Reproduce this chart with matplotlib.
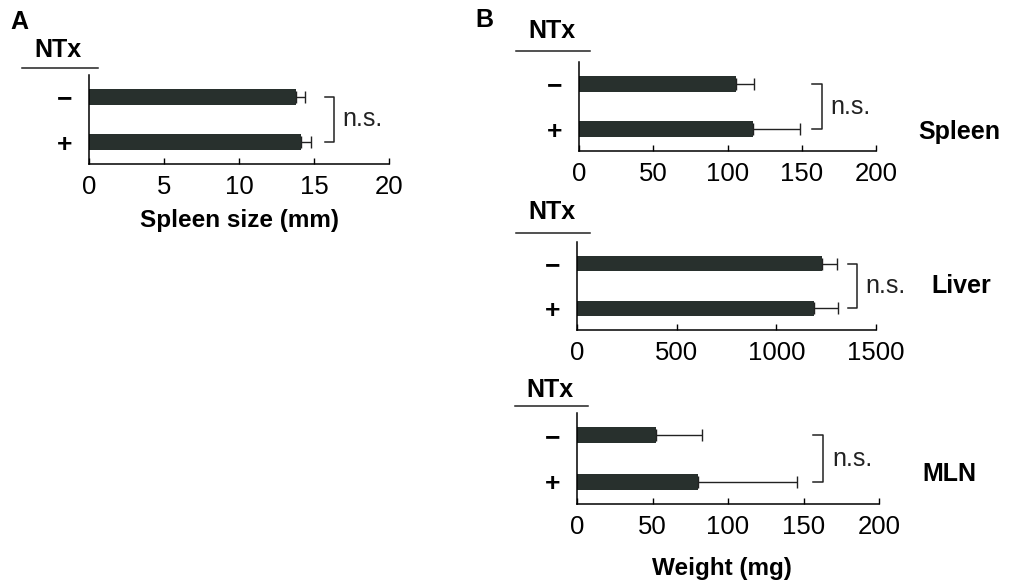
import matplotlib
matplotlib.use('Agg')
import matplotlib.pyplot as plt

plt.rcParams['font.family'] = ['Liberation Sans', 'DejaVu Sans']

W, H = 1014, 585

groups = ['\u2212', '+']

# Panel A: spleen size (mm)
size_mean = [13.8, 14.1]
size_err = [0.6, 0.7]

# Panel B: organ weights (mg)
spleen_mean = [106, 117]
spleen_err = [12, 32]
liver_mean = [1229, 1189]
liver_err = [76, 120]
mln_mean = [52, 80]
mln_err = [31, 66]

bar_color = '#28302d'


def px_rect(left, right, top, bottom):
    return [left / W, 1 - bottom / H, (right - left) / W, (bottom - top) / H]


def draw_panel(ax, means, errs, xmax, xticks, bracket_x, ns_x):
    ypos = list(range(len(means)))
    ax.barh(ypos, means, height=0.34, color=bar_color)
    for y, m, e in zip(ypos, means, errs):
        ax.errorbar([m], [y], xerr=[[0], [e]], fmt='none', ecolor='#222222',
                    elinewidth=1.0, capsize=4, capthick=1.0)
    ax.set_xlim(0, xmax)
    ax.set_ylim(1.48, -0.48)
    ax.set_xticks(xticks)
    ax.set_yticks(ypos)
    ax.set_yticklabels(groups, fontsize=19, fontweight='bold')
    ax.tick_params(axis='y', length=0, pad=12)
    ax.tick_params(axis='x', direction='in', length=4, width=1.0,
                   labelsize=18.5, pad=8)
    for s in ['top', 'right']:
        ax.spines[s].set_visible(False)
    for s in ['left', 'bottom']:
        ax.spines[s].set_linewidth(1.1)
    # significance bracket
    x0, x1 = bracket_x
    ax.plot([x0, x1, x1, x0], [0, 0, 1, 1], color='#222222', lw=1.1,
            clip_on=False)
    ax.text(ns_x, 0.5, 'n.s.', fontsize=18, va='center', ha='left',
            color='#222222')


fig = plt.figure(figsize=(W / 100, H / 100), dpi=100)

axA = fig.add_axes(px_rect(89, 389, 75, 164))
draw_panel(axA, size_mean, size_err, 20, [0, 5, 10, 15, 20], (15.7, 16.3), 16.9)
axA.set_xlabel('Spleen size (mm)', fontsize=17.5, fontweight='bold', labelpad=7)

axS = fig.add_axes(px_rect(579, 876, 62, 151))
draw_panel(axS, spleen_mean, spleen_err, 200, [0, 50, 100, 150, 200],
           (157, 163.5), 169)

axL = fig.add_axes(px_rect(577, 876, 242, 330))
draw_panel(axL, liver_mean, liver_err, 1500, [0, 500, 1000, 1500],
           (1360, 1405), 1445)

axM = fig.add_axes(px_rect(577, 879, 413, 504))
draw_panel(axM, mln_mean, mln_err, 200, [0, 50, 100, 150, 200],
           (156, 163), 169)


def ftext(x, y, s, **kw):
    fig.text(x / W, 1 - y / H, s, **kw)


def ntx_header(xc, y, x0, x1, yline):
    ftext(xc, y, 'NTx', fontsize=18, fontweight='bold', ha='center',
          va='center')
    fig.add_artist(plt.Line2D([x0 / W, x1 / W], [1 - yline / H, 1 - yline / H],
                              color='#222222', lw=1.1))


ftext(19, 22, 'A', fontsize=18, fontweight='bold', ha='center', va='center')
ftext(484, 20, 'B', fontsize=18, fontweight='bold', ha='center', va='center')

ntx_header(58, 50, 22, 98, 68)
ntx_header(552, 31, 516, 590, 51)
ntx_header(552, 212, 516, 590, 233)
ntx_header(550, 390, 515, 588, 406)

ftext(918, 132, 'Spleen', fontsize=18, fontweight='bold', ha='left', va='center')
ftext(931, 286, 'Liver', fontsize=18, fontweight='bold', ha='left', va='center')
ftext(922, 474, 'MLN', fontsize=18, fontweight='bold', ha='left', va='center')
ftext(722, 568, 'Weight (mg)', fontsize=17.5, fontweight='bold', ha='center',
      va='center')

fig.savefig('out.png', dpi=100)
